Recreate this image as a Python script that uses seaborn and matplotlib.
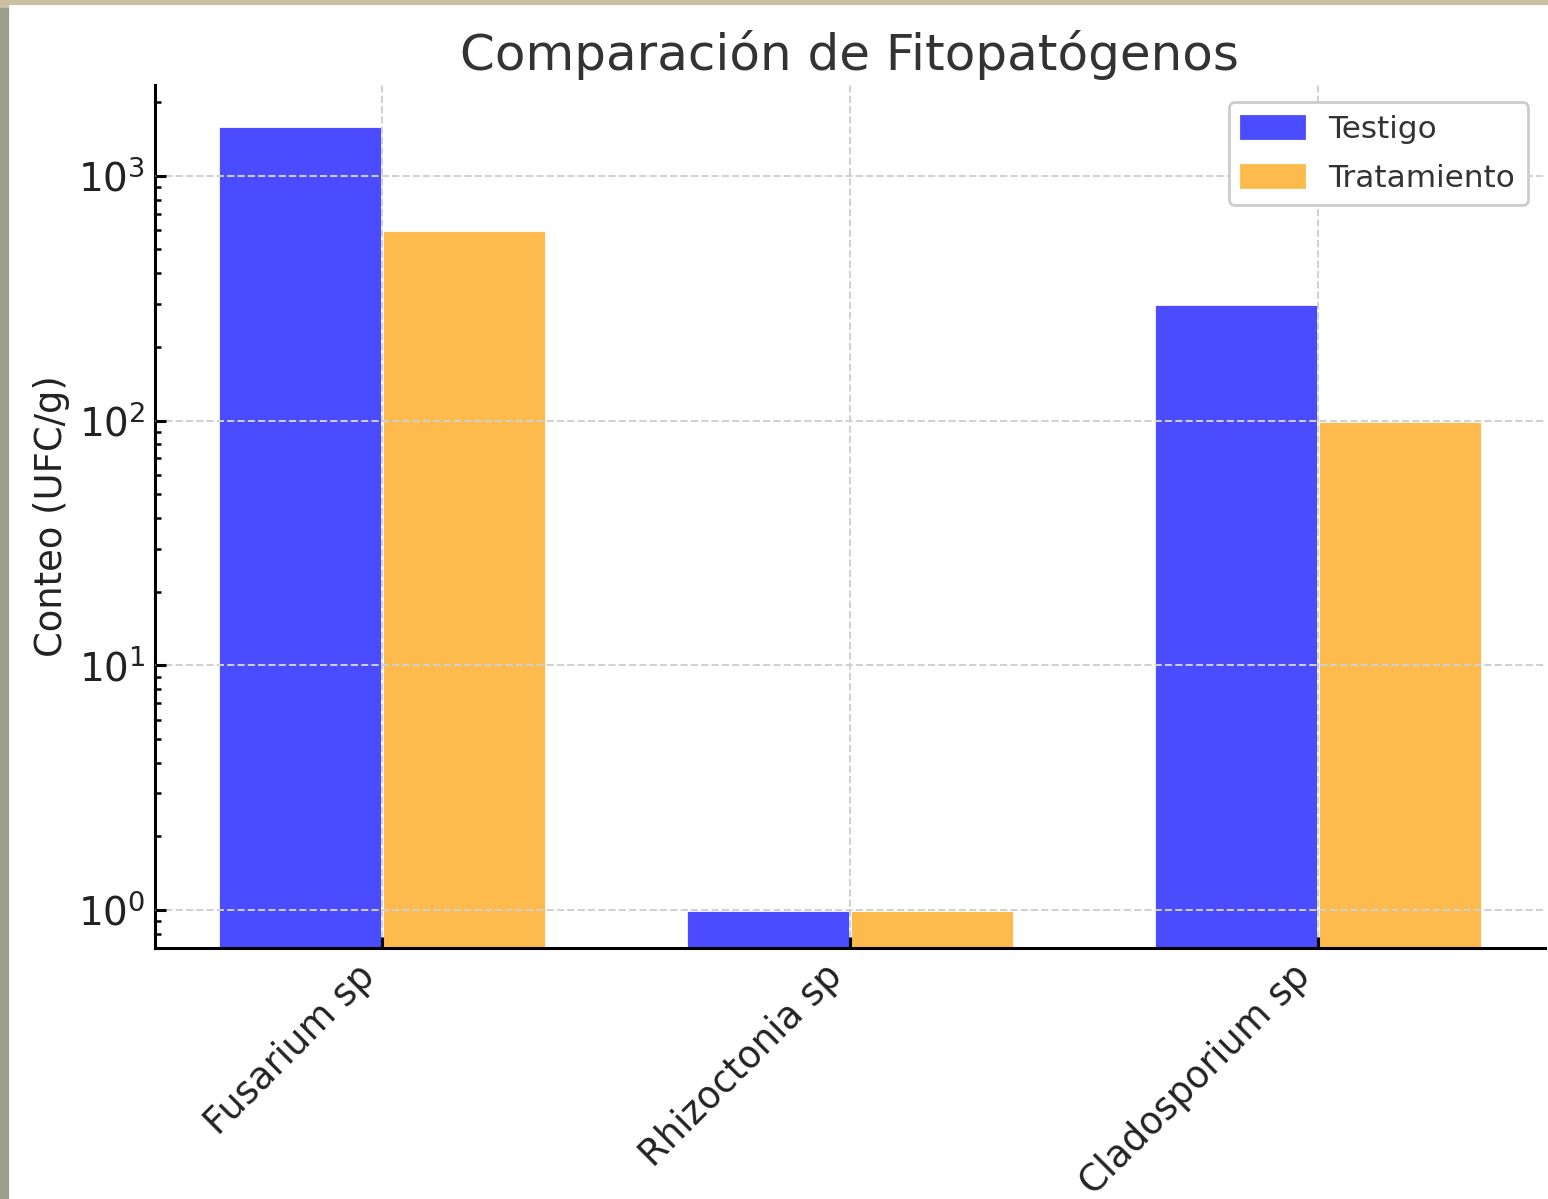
import matplotlib
matplotlib.use("Agg")
import matplotlib.pyplot as plt
import matplotlib.patches as mpatches
import pandas as pd
import seaborn as sns

# data
categorias = ["Fusarium sp", "Rhizoctonia sp", "Cladosporium sp"]
testigo = [1600, 1, 300]
tratamiento = [600, 1, 100]
series = ["Testigo", "Tratamiento"]

df = pd.DataFrame({
    "Fitopatógeno": categorias * 2,
    "Serie": [series[0]] * 3 + [series[1]] * 3,
    "Conteo": testigo + tratamiento,
})

COLORS = {"Testigo": "#4B4BFF", "Tratamiento": "#FDBA4D"}

sns.set_theme(style="white")
plt.rcParams["font.family"] = ["DejaVu Sans"]

fig = plt.figure(figsize=(7.74, 5.995), dpi=200)
fig.patch.set_facecolor("#9c9f8c")
# photo frame remnants: beige strip on top, white card (drawn behind the axes)
fig.patches.append(mpatches.Rectangle((0, 1 - 6 / 1199), 1, 6 / 1199,
                                      transform=fig.transFigure, color="#cbc1a2", zorder=-5))
fig.patches.append(mpatches.Rectangle((10 / 1548, 0), 1, 1 - 6 / 1199,
                                      transform=fig.transFigure, color="white", zorder=-5))

ax = fig.add_axes([155 / 1548, 1 - 948 / 1199, 1390 / 1548, (948 - 85) / 1199])
ax.set_facecolor("none")

sns.barplot(
    data=df, x="Fitopatógeno", y="Conteo", hue="Serie",
    palette=COLORS, saturation=1, width=0.7, ax=ax, legend=False,
)
ax.set_yscale("log")
ax.set_ylim(0.7, 2350)
ax.set_xlim(-0.485, 2.485)

ax.set_title("Comparación de Fitopatógenos", fontsize=18, color="#333333", pad=5.5)
ax.set_xlabel("")
ax.set_ylabel("Conteo (UFC/g)", fontsize=13.3, color="#222222", labelpad=3)

ax.set_xticks(range(len(categorias)))
ax.set_xticklabels(categorias, rotation=45, ha="right", fontsize=13.3, color="#222222")
ax.tick_params(axis="y", labelsize=14, labelcolor="#222222")
ax.tick_params(axis="both", which="major", direction="in", length=4, width=1.1, color="black",
               left=True, bottom=True)
ax.tick_params(axis="y", which="minor", direction="in", length=2.3, width=0.9, color="black", left=True)

ax.grid(True, which="major", axis="both", linestyle="--", color="#d0d0d0", linewidth=0.7)
ax.set_axisbelow(False)

for side in ["top", "right"]:
    ax.spines[side].set_visible(False)
for side in ["left", "bottom"]:
    ax.spines[side].set_color("black")
    ax.spines[side].set_linewidth(1.1)

handles = [mpatches.Patch(color=COLORS[s], label=s) for s in series]
leg = ax.legend(handles=handles, loc="upper right", fontsize=11.2, frameon=True,
                fancybox=True, edgecolor="#cccccc", facecolor="white", framealpha=1,
                borderaxespad=0.55, labelspacing=0.65)
for t in leg.get_texts():
    t.set_color("#333333")

fig.savefig("out.png", dpi=200, facecolor=fig.get_facecolor())
